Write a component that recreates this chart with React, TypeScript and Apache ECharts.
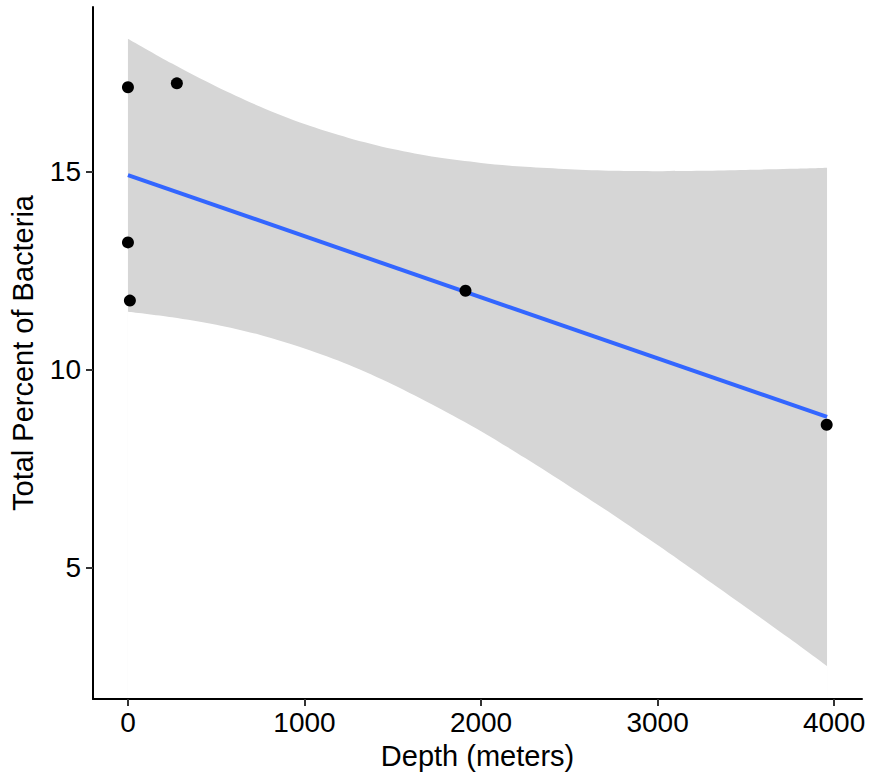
import React, { useEffect, useRef } from "react";
import * as echarts from "echarts";

// Observations
const depth = [0, 277, 0, 11, 1912, 3958];
const percent = [17.14, 17.24, 13.22, 11.75, 12.0, 8.61];

// Fitted line
const fitDepth = [0, 3960];
const fitPercent = [14.92, 8.81];

// Confidence band edges
const bandDepth = [0, 250, 500, 750, 1000, 1250, 1500, 1750, 2000, 2250, 2500, 2750, 3000, 3250, 3500, 3750, 3960];
const bandUpper = [18.37, 17.74, 17.16, 16.65, 16.21, 15.86, 15.58, 15.37, 15.23, 15.13, 15.07, 15.03, 15.02, 15.03, 15.05, 15.08, 15.11];
const bandLower = [11.47, 11.33, 11.14, 10.88, 10.54, 10.13, 9.63, 9.06, 8.45, 7.77, 7.06, 6.33, 5.57, 4.79, 4.0, 3.2, 2.51];

// Axis ticks
const xTicks = [0, 1000, 2000, 3000, 4000];
const yTicks = [5, 10, 15];

const FONT = "'Liberation Sans', Arial, Helvetica, sans-serif";

export default function App() {
  const ref = useRef<HTMLDivElement>(null);
  useEffect(() => {
    if (!ref.current) return;
    const chart = echarts.init(ref.current, null, { renderer: "svg" });
    const upperData = bandDepth.map((x, i) => [x, bandUpper[i]]);
    const lowerData = bandDepth.map((x, i) => [x, bandLower[i]]);
    chart.setOption({
      animation: false,
      backgroundColor: "#ffffff",
      grid: { left: 93, right: 10, top: 7, bottom: 81, containLabel: false },
      xAxis: {
        type: "value",
        z: 10,
        min: -198,
        max: 4158,
        name: "Depth (meters)",
        nameLocation: "middle",
        nameGap: 42,
        nameTextStyle: { fontSize: 29, color: "#000", fontFamily: FONT },
        axisLine: { show: true, onZero: false, lineStyle: { color: "#000", width: 2 } },
        axisTick: { show: true, customValues: xTicks, length: 7, lineStyle: { color: "#333", width: 2 } },
        axisLabel: {
          customValues: xTicks,
          fontSize: 28,
          color: "#000",
          margin: 9,
          fontFamily: FONT,
          formatter: (v: number) => String(v),
        },
        splitLine: { show: false },
      },
      yAxis: {
        type: "value",
        z: 10,
        min: 1.68,
        max: 19.17,
        name: "Total Percent of Bacteria",
        nameLocation: "middle",
        nameGap: 56,
        nameTextStyle: { fontSize: 29, color: "#000", fontFamily: FONT },
        axisLine: { show: true, onZero: false, lineStyle: { color: "#000", width: 2 } },
        axisTick: { show: true, customValues: yTicks, length: 7, lineStyle: { color: "#333", width: 2 } },
        axisLabel: {
          customValues: yTicks,
          fontSize: 28,
          color: "#000",
          margin: 12,
          fontFamily: FONT,
          formatter: (v: number) => String(v),
        },
        splitLine: { show: false },
      },
      series: [
        {
          type: "line",
          data: upperData,
          symbol: "none",
          smooth: 0.3,
          lineStyle: { width: 0, opacity: 0 },
          areaStyle: { color: "#D6D6D6", opacity: 1, origin: "start" },
          silent: true,
          z: 1,
        },
        {
          type: "line",
          data: lowerData,
          symbol: "none",
          smooth: 0.3,
          lineStyle: { width: 0, opacity: 0 },
          areaStyle: { color: "#ffffff", opacity: 1, origin: "start" },
          silent: true,
          z: 1,
        },
        {
          type: "line",
          data: fitDepth.map((x, i) => [x, fitPercent[i]]),
          symbol: "none",
          lineStyle: { color: "#3366FF", width: 4 },
          silent: true,
          z: 2,
        },
        {
          type: "scatter",
          data: depth.map((x, i) => [x, percent[i]]),
          symbol: "circle",
          symbolSize: 12,
          itemStyle: { color: "#000", opacity: 1 },
          z: 3,
        },
      ],
    });
    return () => chart.dispose();
  }, []);
  return (
    <div
      ref={ref}
      style={{ position: "fixed", left: 0, top: 0, width: 872, height: 780 }}
    />
  );
}
